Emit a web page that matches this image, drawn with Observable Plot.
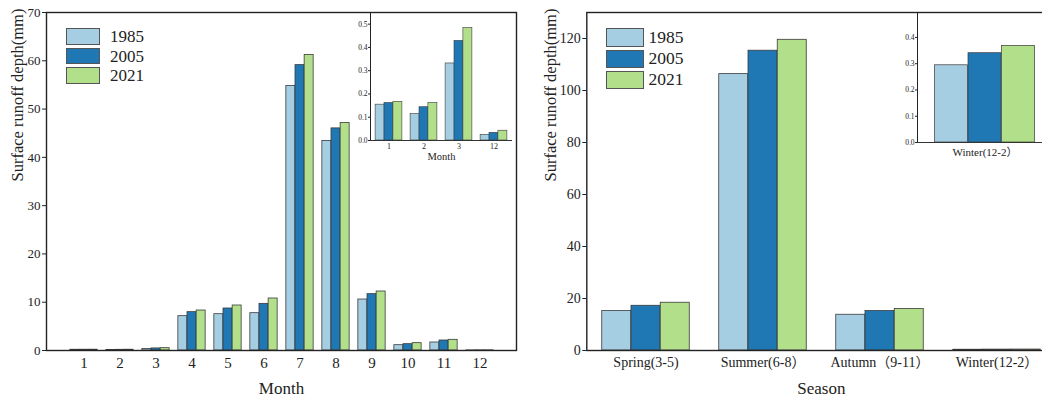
<!DOCTYPE html>
<html><head><meta charset="utf-8">
<script src="https://cdn.jsdelivr.net/npm/d3@7"></script>
<script src="https://cdn.jsdelivr.net/npm/@observablehq/plot@0.6"></script>
<style>
html,body{margin:0;padding:0;background:#fff;overflow:hidden;}
#wrap{position:relative;width:1042px;height:398px;overflow:hidden;background:#fff;font-family:"Liberation Serif","Noto Sans CJK SC",serif;}
#wrap > *{position:absolute;}
.sw{position:absolute;border:1px solid #555;box-sizing:border-box;}
.lt{position:absolute;color:#222;line-height:1;}
</style></head><body><div id="wrap"></div><script>
const FONT = '"Liberation Serif","Noto Sans CJK SC",serif';
const years = ["1985", "2005", "2021"];
const colors = ["#a6cee3", "#1f78b4", "#b2df8a"];

// Monthly surface runoff depth (mm)
const months = [1, 2, 3, 4, 5, 6, 7, 8, 9, 10, 11, 12];
const month1985 = [0.154, 0.114, 0.331, 7.11, 7.52, 7.73, 54.8, 43.4, 10.56, 1.10, 1.66, 0.0245];
const month2005 = [0.161, 0.143, 0.428, 7.94, 8.70, 9.66, 59.1, 46.0, 11.67, 1.31, 2.07, 0.033];
const month2021 = [0.166, 0.161, 0.483, 8.28, 9.32, 10.77, 61.2, 47.1, 12.22, 1.52, 2.21, 0.042];
const monthTicks = [0, 10, 20, 30, 40, 50, 60, 70];

// Inset: low-runoff months
const insetMonths = [1, 2, 3, 12];
const insetMonthTicks = [0, 0.1, 0.2, 0.3, 0.4, 0.5];

// Seasonal surface runoff depth (mm)
const seasons = ["Spring(3-5)", "Summer(6-8）", "Autumn（9-11）", "Winter(12-2）"];
const season1985 = [15.16, 106.3, 13.75, 0.294];
const season2005 = [17.2, 115.3, 15.16, 0.340];
const season2021 = [18.37, 119.5, 15.93, 0.368];
const seasonTicks = [0, 20, 40, 60, 80, 100, 120];
const insetSeasons = ["Winter(12-2）"];
const insetSeasonTicks = [0, 0.1, 0.2, 0.3, 0.4];

const monthSeries = [month1985, month2005, month2021];
const seasonSeries = [season1985, season2005, season2021];
const monthRows = months.flatMap((m, i) => years.map((y, j) => ({key: m, year: y, value: monthSeries[j][i]})));
const seasonRows = seasons.flatMap((s, i) => years.map((y, j) => ({key: s, year: y, value: seasonSeries[j][i]})));

function bandWidth(w, n, pi, po) { const step = w / Math.max(1, n - pi + 2 * po); return step * (1 - pi); }

function groupBars(rows, domain, bw, strokeWidth) {
  return years.map((y, j) => Plot.barY(rows.filter(d => d.year === y && domain.includes(d.key)), {
    x: "key", y: "value", fill: colors[j], stroke: "#3a3a3a", strokeWidth, inset: 0, dx: (j - 1) * bw
  }));
}

function mk(opts, el, left, top, ySize, xSize) {
  const svg = Plot.plot(opts);
  svg.style.left = left + "px"; svg.style.top = top + "px";
  svg.style.maxWidth = "none"; svg.style.background = "transparent";
  d3.select(svg).selectAll('g[aria-label^="y-axis"]').attr("font-size", ySize);
  d3.select(svg).selectAll('g[aria-label^="x-axis"]').attr("font-size", xSize);
  el.appendChild(svg);
  return svg;
}

const wrap = document.getElementById("wrap");

// ---------- Left main ----------
{
  const W = 520, H = 398, ml = 46, mr = 4, pi = 0.75, po = 0.795;
  const bw = bandWidth(W - ml - mr, months.length, pi, po);
  mk({
    width: W, height: H, marginLeft: ml, marginRight: mr, marginTop: 12, marginBottom: 48,
    style: {fontFamily: FONT, fontSize: "15px", color: "#222", background: "transparent", overflow: "visible"},
    x: {domain: months, paddingInner: pi, paddingOuter: po, tickSize: 0, tickPadding: 7, label: null},
    y: {domain: [0, 70], ticks: monthTicks, tickSize: 4, tickPadding: 2, label: null},
    marks: [
      ...groupBars(monthRows, months, bw, 0.8),
      Plot.frame({stroke: "#222", strokeWidth: 1.4}),
      Plot.text(["Month"], {frameAnchor: "bottom", dy: 43, fontSize: 17, fill: "#222"}),
      Plot.text(["Surface runoff depth(mm)"], {frameAnchor: "left", rotate: -90, dx: -29, fontSize: 16.5, fill: "#222"})
    ]
  }, wrap, 0, 0, 13, 15);
}

// ---------- Left inset ----------
{
  const W = 190, H = 170, ml = 40, mr = 8, pi = 0.753, po = 0.349;
  const bw = bandWidth(W - ml - mr, insetMonths.length, pi, po);
  mk({
    width: W, height: H, marginLeft: ml, marginRight: mr, marginTop: 12, marginBottom: 30,
    style: {fontFamily: FONT, fontSize: "8px", color: "#222", background: "transparent", overflow: "visible"},
    x: {domain: insetMonths, paddingInner: pi, paddingOuter: po, tickSize: 0, tickPadding: 3, label: null},
    y: {domain: [0, 0.55], ticks: insetMonthTicks, tickFormat: ".1f", tickSize: 2, tickPadding: 1, label: null, line: true},
    marks: [
      ...groupBars(monthRows, insetMonths, bw, 0.6),
      Plot.ruleY([0], {stroke: "#333", strokeWidth: 1}),
      Plot.text(["Month"], {frameAnchor: "bottom", dy: 19, fontSize: 10.5, fill: "#222"})
    ]
  }, wrap, 330, 0, 7.5, 8);
}

// ---------- Right main ----------
{
  const W = 540, H = 398, ml = 66.3, mr = 4.7, pi = 0.75, po = 0.379;
  const bw = bandWidth(W - ml - mr, seasons.length, pi, po);
  mk({
    width: W, height: H, marginLeft: ml, marginRight: mr, marginTop: 12, marginBottom: 48,
    style: {fontFamily: FONT, fontSize: "14px", color: "#222", background: "transparent", overflow: "visible"},
    x: {domain: seasons, paddingInner: pi, paddingOuter: po, tickSize: 0, tickPadding: 7, label: null},
    y: {domain: [0, 130], ticks: seasonTicks, tickSize: 4, tickPadding: 2, label: null},
    marks: [
      ...groupBars(seasonRows, seasons, bw, 0.8),
      Plot.frame({stroke: "#222", strokeWidth: 1.4}),
      Plot.text(["Season"], {frameAnchor: "bottom", dy: 43, fontSize: 17, fill: "#222"}),
      Plot.text(["Surface runoff depth(mm)"], {frameAnchor: "left", rotate: -90, dx: -36, fontSize: 16.5, fill: "#222"})
    ]
  }, wrap, 520, 0, 14, 14);
}

// ---------- Right inset ----------
{
  const W = 190, H = 170, ml = 47, mr = 8, pi = 0, po = 1.51;
  const bw = bandWidth(W - ml - mr, insetSeasons.length, pi, po);
  mk({
    width: W, height: H, marginLeft: ml, marginRight: mr, marginTop: 12, marginBottom: 28,
    style: {fontFamily: FONT, fontSize: "8px", color: "#222", background: "transparent", overflow: "visible"},
    x: {domain: insetSeasons, paddingInner: pi, paddingOuter: po, tickSize: 0, tickPadding: 6, label: null},
    y: {domain: [0, 0.495], ticks: insetSeasonTicks, tickFormat: ".1f", tickSize: 2, tickPadding: 1, label: null, line: true},
    marks: [
      ...groupBars(seasonRows, insetSeasons, bw, 0.7),
      Plot.ruleY([0], {stroke: "#333", strokeWidth: 1})
    ]
  }, wrap, 870, 0, 7.5, 11);
}

// ---------- Legends ----------
function legend(x, y, w, h, gap, fs, tx) {
  years.forEach((yr, j) => {
    const b = document.createElement("div");
    b.className = "sw";
    Object.assign(b.style, {left: x + "px", top: (y + j * gap) + "px", width: w + "px", height: h + "px", background: colors[j]});
    wrap.appendChild(b);
    const t = document.createElement("div");
    t.className = "lt"; t.textContent = yr;
    Object.assign(t.style, {left: tx + "px", top: (y + j * gap + h / 2 - fs * 0.5) + "px", fontSize: fs + "px"});
    wrap.appendChild(t);
  });
}
legend(65.7, 28.3, 34.3, 16.7, 19.4, 17, 110);
legend(606, 28.3, 38.3, 18.5, 21.3, 17.5, 648.5);
</script></body></html>
